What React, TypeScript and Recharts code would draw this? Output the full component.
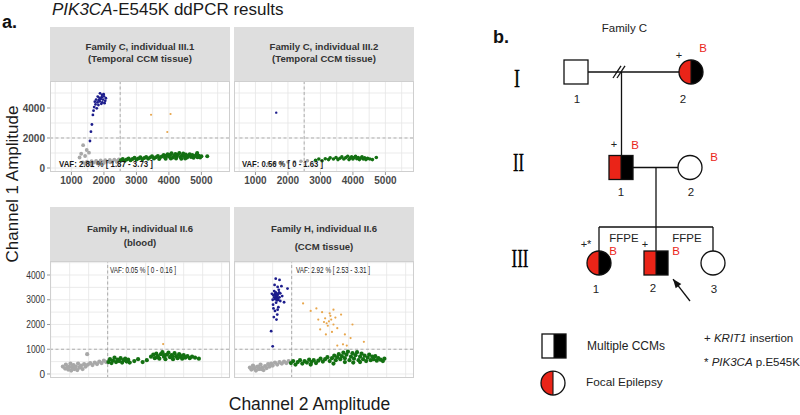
import React from "react";
import { ScatterChart, Scatter, XAxis, YAxis, ReferenceLine, CartesianGrid } from "recharts";

type Pt = [number, number];

// ---------------- Panel a: ddPCR droplet amplitudes (Channel 2 = x, Channel 1 = y) ----------------
const xTicksTop = [1000, 2000, 3000, 4000, 5000];
const yTicksTop = [0, 2000, 4000];
const yTicksBottom = [0, 1000, 2000, 3000, 4000];
const xGridTop = [500, 1000, 1500, 2000, 2500, 3000, 3500, 4000, 4500, 5000, 5500];
const yGridTop = [0, 1000, 2000, 3000, 4000, 5000];
const xGridBottom = [1000, 1500, 2000, 2500, 3000, 3500, 4000, 4500, 5000, 5500];
const yGridBottom = [0, 500, 1000, 1500, 2000, 2500, 3000, 3500, 4000, 4500];
const thresholdX = 2500;
const thresholdYTop = 2000;
const thresholdYBottom = 1000;

const stripTitles = [
  ["Family C, individual III.1", "(Temporal CCM tissue)"],
  ["Family C, individual III.2", "(Temporal CCM tissue)"],
  ["Family H, individual II.6", "(blood)"],
  ["Family H, individual II.6", "(CCM tissue)"],
];
const vafLabels = [
  "VAF: 2.81 % [ 1.87 - 3.73 ]",
  "VAF: 0.56 % [ 0 - 1.63 ]",
  "VAF: 0.05 % [ 0 - 0.16 ]",
  "VAF: 2.92 % [ 2.53 - 3.31 ]",
];

// Family C III.1
const c31Gray: Pt[] = [
  [1350, 380], [1420, 300], [1480, 420], [1550, 340], [1620, 460], [1690, 360], [1760, 480], [1830, 380],
  [1900, 500], [1970, 400], [2040, 520], [2110, 420], [2180, 540], [2250, 440], [2320, 560], [2390, 460],
  [2460, 580], [2530, 480], [1600, 250], [1800, 300], [2000, 350], [2200, 380], [2400, 400],
  [1360, 1520], [1300, 950], [1470, 1200], [1540, 1020], [1420, 800], [1250, 700],
];
const c31Green: Pt[] = [
  [2520, 520], [2580, 600], [2640, 480], [2700, 560], [2760, 640], [2820, 520], [2880, 600], [2940, 680],
  [3000, 560], [3060, 640], [3120, 720], [3180, 590], [3240, 660], [3300, 740], [3360, 610], [3420, 700],
  [3480, 780], [3540, 640], [3600, 720], [3660, 800], [3720, 680], [3780, 760], [3840, 860], [3880, 700],
  [3920, 820], [3960, 920], [4000, 760], [4040, 880], [4080, 980], [4120, 700], [4160, 820], [4200, 940],
  [4240, 760], [4280, 880], [4320, 1000], [4360, 720], [4400, 840], [4440, 960], [4480, 780], [4520, 900],
  [4560, 700], [4600, 820], [4640, 920], [4680, 740], [4720, 860], [4760, 680], [4800, 800], [4850, 900],
  [4880, 720], [4920, 820], [4960, 700], [5000, 780], [4060, 640], [4220, 640], [4380, 620], [3700, 600],
  [3900, 620], [4500, 640], [5180, 780], [4870, 1000],
];
const c31Orange: Pt[] = [[3450, 3550], [4050, 3600], [3950, 2400]];
const c31Blue: Pt[] = [
  [1880, 4980], [1940, 4880], [1990, 4920], [1810, 4760], [1860, 4680], [1930, 4720], [2000, 4780], [2060, 4650],
  [1760, 4560], [1840, 4520], [1900, 4600], [1970, 4560], [2040, 4480], [1720, 4420], [1800, 4380], [1870, 4440],
  [1950, 4380], [2020, 4320], [1740, 4240], [1830, 4200], [1920, 4280], [1700, 4060], [1780, 3980], [1680, 3820],
  [1660, 3540], [1630, 2900], [1600, 2420], [1570, 1800],
];

// Family C III.2
const c32Gray: Pt[] = [[1400, 300], [1600, 350], [1800, 380], [2000, 400], [2200, 420], [2400, 450], [2600, 480]];
const c32Green: Pt[] = [
  [2850, 520], [2950, 600], [3050, 480], [3150, 620], [3250, 560], [3300, 680], [3400, 600], [3480, 700],
  [3540, 560], [3600, 650], [3660, 740], [3720, 600], [3780, 690], [3840, 780], [3880, 560], [3920, 660],
  [3960, 740], [4000, 600], [4040, 700], [4080, 780], [4120, 620], [4160, 700], [4200, 560], [4240, 660],
  [4280, 740], [4320, 600], [4360, 680], [4400, 560], [4450, 640], [4520, 600], [4600, 560], [4720, 700],
];
const c32Blue: Pt[] = [[1640, 3690]];

// Family H II.6 blood
const h26bGray: Pt[] = [
  [1320, 300], [1380, 220], [1400, 380], [1460, 180], [1480, 300], [1520, 420], [1540, 140], [1560, 260],
  [1600, 360], [1620, 200], [1660, 300], [1700, 160], [1720, 420], [1760, 260], [1800, 340], [1840, 200],
  [1880, 400], [1920, 300], [1980, 380], [2040, 440], [2100, 360], [2160, 460], [2220, 400], [2280, 500],
  [2340, 440], [2400, 540], [2460, 480], [1440, 260], [1580, 320], [1640, 240], [1780, 300], [1960, 800],
];
const h26bGreen: Pt[] = [
  [2520, 480], [2560, 600], [2600, 440], [2640, 540], [2680, 660], [2720, 480], [2760, 580], [2800, 520],
  [2840, 640], [2880, 460], [2920, 560], [2960, 620], [3000, 500], [3040, 580], [3080, 460],
  [3200, 520], [3300, 600], [3420, 480], [3530, 560],
  [3640, 700], [3700, 780], [3740, 640], [3780, 820], [3820, 720], [3860, 620], [3900, 800], [3940, 880],
  [3980, 700], [4020, 600], [4060, 780], [4100, 860], [4140, 680], [4180, 760], [4220, 600], [4260, 840],
  [4300, 720], [4340, 640], [4380, 800], [4420, 700], [4460, 620], [4500, 760], [4540, 660], [4600, 720],
  [4660, 640], [4720, 700], [4800, 660], [4900, 620], [4000, 760], [4200, 700], [4400, 760], [3800, 680],
];
const h26bOrange: Pt[] = [[3960, 1210]];

// Family H II.6 CCM tissue
const h26tGray: Pt[] = [
  [1400, 260], [1440, 180], [1480, 340], [1520, 220], [1560, 140], [1600, 300], [1640, 200], [1680, 380],
  [1720, 260], [1760, 160], [1800, 320], [1840, 240], [1880, 400], [1920, 300], [1960, 420], [2000, 340],
  [2060, 460], [2120, 380], [2180, 480], [2240, 420], [2300, 500], [2360, 440], [2420, 520], [1500, 300],
  [1620, 260], [1700, 200],
];
const h26tGreen: Pt[] = [
  [2480, 440], [2540, 520], [2600, 380], [2660, 480], [2720, 560], [2780, 420], [2840, 520], [2900, 460],
  [2960, 580], [3020, 480], [3080, 560], [3140, 440], [3200, 540], [3260, 620], [3320, 500], [3380, 600],
  [3440, 680], [3500, 520], [3560, 640], [3620, 740], [3660, 560], [3700, 680], [3740, 800], [3780, 600],
  [3820, 720], [3860, 860], [3900, 640], [3940, 780], [3980, 900], [4020, 560], [4060, 700], [4100, 840],
  [4140, 620], [4180, 760], [4220, 880], [4260, 560], [4300, 700], [4340, 820], [4380, 600], [4420, 740],
  [4460, 520], [4500, 660], [4540, 780], [4580, 560], [4620, 700], [4660, 600], [4700, 720], [4740, 540],
  [4780, 640], [4840, 580], [4900, 520], [4120, 460], [3900, 480], [4300, 480], [3600, 420], [3000, 380],
  [4940, 620],
];
const h26tOrange: Pt[] = [
  [3480, 2130], [3420, 2050], [3540, 2200], [3380, 2250], [3600, 2000], [3450, 1950], [3520, 2350], [3350, 2100],
  [3650, 2280], [3300, 2500], [3700, 1850], [3250, 1800], [3560, 1700], [3800, 2400], [3150, 2650], [2800, 2850],
  [3000, 2550], [3900, 1600], [4050, 1450], [4400, 1300], [3700, 1150], [3850, 1200], [3950, 1150], [3600, 2600],
  [3400, 1600], [4100, 2000], [3200, 2200], [3500, 2450],
];
const h26tBlue: Pt[] = [
  [2100, 3140], [2060, 3050], [2140, 3220], [2020, 3180], [2180, 3100], [2080, 3300], [2120, 2980], [2040, 3350],
  [2160, 3400], [2000, 3000], [2200, 3260], [2090, 2880], [2130, 3520], [2050, 3600], [2230, 3550], [2180, 3800],
  [2080, 3850], [2010, 2800], [2150, 2700], [2060, 2550], [2120, 2400], [2030, 2300], [2200, 2950], [2250, 3150],
  [1980, 3240], [2110, 3060], [2070, 3200], [2150, 3000], [2040, 3100], [2170, 3300], [2390, 3450], [2300, 2900],
  [1960, 1730], [2000, 1120], [2100, 2200], [2020, 2650], [2130, 2600], [2090, 3120], [2120, 3180], [2060, 3240],
  [2140, 3080], [2100, 3260], [2070, 3020],
];

// ---------------- Panel b: pedigree of Family C ----------------
const pedIds = ["I-1", "I-2", "II-1", "II-2", "III-1", "III-2", "III-3"];
const pedColumn = [9.6, 21.1, 14.1, 21.0, 11.9, 17.6, 23.3];
const pedGeneration = [1, 1, 2, 2, 3, 3, 3];
const pedSex = ["M", "F", "M", "F", "F", "M", "F"];
const pedMultipleCCMs = [0, 1, 1, 0, 1, 1, 0];
const pedFocalEpilepsy = [0, 1, 1, 0, 1, 1, 0];
const pedNumber = ["1", "2", "1", "2", "1", "2", "3"];
const pedMarker = ["", "+", "+", "", "+*", "+", ""];
const pedBlood = [0, 1, 1, 1, 1, 1, 0];
const pedFFPE = [0, 0, 0, 0, 1, 1, 0];
const generationLabels = ["I", "II", "III"];

const pedLinks: [number, number, number, number][] = [
  [10.8, 1, 19.9, 1],
  [14.15, 1, 14.15, 1.869],
  [15.3, 2, 19.8, 2],
  [17.6, 2, 17.6, 2.874],
  [11.9, 2.623, 23.3, 2.623],
  [11.9, 2.623, 11.9, 2.874],
  [23.3, 2.623, 23.3, 2.874],
];
const separationMarks: [number, number, number, number][] = [
  [13.3, 1.063, 14.1, 0.937],
  [13.7, 1.063, 14.5, 0.937],
];
const probandArrow: [number, number, number, number] = [21.0, 3.398, 19.3, 3.168];

const legendLabels = ["Multiple CCMs", "Focal Epilepsy"];
const legendSex = ["M", "F"];
const legendColumn = [7.4, 7.3];
const legendRow = [3.869, 4.257];
const legendCCM = [1, 0];
const legendEpi = [0, 1];

// ---------------- styles ----------------
const FONT = "'Liberation Sans', Arial, sans-serif";
const C_GRAY = "#a8a8a8";
const C_GREEN = "#137012";
const C_BLUE = "#1d1d8c";
const C_ORANGE = "#e8a64c";
const RED = "#ea2418";
const INK = "#111";

const annot: Record<string, any> = {
  "I-1": { num: [1, 27] },
  "I-2": { num: [-8, 27], mark: [-12, -17], b: [12, -24] },
  "II-1": { num: [0, 24], mark: [-7, -23], b: [14, -23] },
  "II-2": { num: [1, 24], b: [24, -11] },
  "III-1": { num: [-3, 26], mark: [-13, -19], b: [14, -12], ffpe: [25, -25] },
  "III-2": { num: [-3, 25], mark: [-11, -19], b: [20, -12], ffpe: [31, -25] },
  "III-3": { num: [1, 26] },
};

const toObj = (a: Pt[]) => a.map(([x, y]) => ({ x, y }));
const dot = (r: number, color: string) => (p: any) => <circle cx={p.cx} cy={p.cy} r={r} fill={color} />;

type Series = { data: Pt[]; color: string; r: number };

function CondensedTick(props: any) {
  const { x, y, payload } = props;
  const s = String(payload.value);
  const extra = s.length > 1 ? { textLength: s.length * 4.7, lengthAdjust: "spacingAndGlyphs" } : {};
  return (
    <text x={x} y={y} dy="0.36em" textAnchor="end" fontSize={10} fill="#333" fontFamily={FONT} {...extra}>{s}</text>
  );
}

function Facet(props: {
  left: number; top: number; width: number; height: number;
  xDomain: [number, number]; yDomain: [number, number];
  showX: boolean; showY: boolean; xTicks: number[]; yTicks: number[];
  xGrid: number[]; yGrid: number[]; thrY: number; series: Series[]; condensed?: boolean;
}) {
  const yw = props.showY ? 50 : 0;
  const xh = props.showX ? 20 : 0;
  const pad = props.showX ? 0 : 8;
  const tickStyle = { fontSize: 10, fontWeight: 700, fill: "#4a4a4a", fontFamily: FONT };
  return (
    <div style={{ position: "absolute", left: props.left - yw, top: props.top }}>
      <ScatterChart width={props.width + yw} height={props.height + xh + pad} margin={{ top: 0, right: 0, bottom: pad, left: 0 }}>
        <CartesianGrid horizontalValues={props.yGrid} verticalValues={props.xGrid} stroke="#e6e6e6" strokeWidth={0.8} />
        <XAxis type="number" dataKey="x" domain={props.xDomain} allowDataOverflow ticks={props.xTicks} interval={0}
          hide={!props.showX} height={xh} axisLine={false} tickLine={{ stroke: "#9a9a9a" }} tickSize={3} tick={tickStyle} />
        <YAxis type="number" dataKey="y" domain={props.yDomain} allowDataOverflow ticks={props.yTicks} interval={0}
          hide={!props.showY} width={yw} axisLine={false} tickLine={{ stroke: "#9a9a9a" }} tickSize={3}
          tick={props.condensed ? <CondensedTick /> : tickStyle} />
        <ReferenceLine x={thresholdX} stroke="#9a9a9a" strokeWidth={0.8} strokeDasharray="3 2.5" />
        <ReferenceLine y={props.thrY} stroke="#9a9a9a" strokeWidth={0.8} strokeDasharray="3 2.5" />
        {props.series.map((s, i) => (
          <Scatter key={i} data={toObj(s.data)} shape={dot(s.r, s.color)} isAnimationActive={false} />
        ))}
      </ScatterChart>
      <div style={{ position: "absolute", left: yw, top: 0, width: props.width, height: props.height, boxSizing: "border-box", border: "1px solid #cfcfcf", pointerEvents: "none" }} />
    </div>
  );
}

function HalfSymbol({ cx, cy, sex, left, right }: any) {
  const s = 12;
  if (sex === "M") {
    return (
      <g>
        <rect x={cx - s} y={cy - s} width={s} height={2 * s} fill={left} />
        <rect x={cx} y={cy - s} width={s} height={2 * s} fill={right} />
        <rect x={cx - s} y={cy - s} width={2 * s} height={2 * s} fill="none" stroke={INK} strokeWidth={1.3} />
        {left !== right && <line x1={cx} y1={cy - s} x2={cx} y2={cy + s} stroke={INK} strokeWidth={1.1} />}
      </g>
    );
  }
  return (
    <g>
      <path d={`M ${cx} ${cy - s} A ${s} ${s} 0 0 0 ${cx} ${cy + s} Z`} fill={left} />
      <path d={`M ${cx} ${cy - s} A ${s} ${s} 0 0 1 ${cx} ${cy + s} Z`} fill={right} />
      <circle cx={cx} cy={cy} r={s} fill="none" stroke={INK} strokeWidth={1.3} />
      {left !== right && <line x1={cx} y1={cy - s} x2={cx} y2={cy + s} stroke={INK} strokeWidth={1.1} />}
    </g>
  );
}

function PedShape(p: any) {
  const { cx, cy, payload } = p;
  const a = annot[payload.id] || {};
  const left = payload.epi ? RED : "#fff";
  const right = payload.ccm ? "#000" : "#fff";
  return (
    <g fontFamily={FONT}>
      <HalfSymbol cx={cx} cy={cy} sex={payload.sex} left={left} right={right} />
      {a.num && <text x={cx + a.num[0]} y={cy + a.num[1]} dy="0.35em" textAnchor="middle" fontSize={11.5} fill="#222">{payload.num}</text>}
      {payload.mark && a.mark && <text x={cx + a.mark[0]} y={cy + a.mark[1]} dy="0.35em" textAnchor="middle" fontSize={11} fill="#222">{payload.mark}</text>}
      {payload.b ? <text x={cx + a.b[0]} y={cy + a.b[1]} dy="0.35em" textAnchor="middle" fontSize={11.5} fill={RED}>B</text> : null}
      {payload.ffpe ? <text x={cx + a.ffpe[0]} y={cy + a.ffpe[1]} dy="0.35em" textAnchor="middle" fontSize={11.5} fill="#222">FFPE</text> : null}
    </g>
  );
}

function LegendShape(p: any) {
  const { cx, cy, payload } = p;
  return <HalfSymbol cx={cx} cy={cy} sex={payload.sex} left={payload.epi ? RED : "#fff"} right={payload.ccm ? "#000" : "#fff"} />;
}

function ArrowHead(p: any) {
  const { cx, cy } = p;
  return <polygon points={`${cx},${cy} ${cx + 2.7},${cy + 9.3} ${cx + 8.3},${cy + 5}`} fill={INK} />;
}

export default function App() {
  const topX: [number, number] = [340, 5880];
  const topY: [number, number] = [-267, 5800];
  const botX: [number, number] = [982, 5719];
  const botY: [number, number] = [-162, 4566];

  const pedNodes = pedIds.map((id, i) => ({
    id, x: pedColumn[i], y: pedGeneration[i], sex: pedSex[i], ccm: pedMultipleCCMs[i], epi: pedFocalEpilepsy[i],
    num: pedNumber[i], mark: pedMarker[i], b: pedBlood[i], ffpe: pedFFPE[i],
  }));
  const legendNodes = legendLabels.map((l, i) => ({ x: legendColumn[i], y: legendRow[i], sex: legendSex[i], ccm: legendCCM[i], epi: legendEpi[i] }));
  const strips = [
    { left: 50, top: 27 }, { left: 234, top: 27 }, { left: 50, top: 207 }, { left: 234, top: 207 },
  ];
  const stripBase = [[50, 62], [50, 62], [232, 246], [232, 250]];
  const vafPos = [
    { x: 59, y: 167, w: 94, size: 8.5, weight: 700 },
    { x: 242, y: 167, w: 81, size: 8.5, weight: 700 },
    { x: 110, y: 273, w: 66, size: 9, weight: 400 },
    { x: 296, y: 273, w: 74, size: 9, weight: 400 },
  ];
  const romanY = [87, 171, 267];
  const romanW = [6, 11, 17];

  return (
    <div style={{ position: "absolute", left: 0, top: 0, width: 800, height: 415, background: "#fff", overflow: "hidden" }}>
      {strips.map((s, i) => (
        <div key={i} style={{ position: "absolute", left: s.left, top: s.top, width: 180, height: 54, background: "#dedede" }} />
      ))}
      <Facet left={50} top={81} width={180} height={91} xDomain={topX} yDomain={topY} showX showY
        xTicks={xTicksTop} yTicks={yTicksTop} xGrid={xGridTop} yGrid={yGridTop} thrY={thresholdYTop}
        series={[{ data: c31Gray, color: C_GRAY, r: 1.9 }, { data: c31Green, color: C_GREEN, r: 2.0 }, { data: c31Orange, color: C_ORANGE, r: 1.1 }, { data: c31Blue, color: C_BLUE, r: 1.4 }]} />
      <Facet left={234} top={81} width={180} height={91} xDomain={topX} yDomain={topY} showX showY={false}
        xTicks={xTicksTop} yTicks={yTicksTop} xGrid={xGridTop} yGrid={yGridTop} thrY={thresholdYTop}
        series={[{ data: c32Gray, color: C_GRAY, r: 1.8 }, { data: c32Green, color: C_GREEN, r: 1.8 }, { data: c32Blue, color: C_BLUE, r: 1.2 }]} />
      <Facet left={50} top={261} width={180} height={117} xDomain={botX} yDomain={botY} showX={false} showY condensed
        xTicks={[]} yTicks={yTicksBottom} xGrid={xGridBottom} yGrid={yGridBottom} thrY={thresholdYBottom}
        series={[{ data: h26bGray, color: C_GRAY, r: 2.1 }, { data: h26bGreen, color: C_GREEN, r: 2.1 }, { data: h26bOrange, color: C_ORANGE, r: 1.1 }]} />
      <Facet left={234} top={261} width={180} height={117} xDomain={botX} yDomain={botY} showX={false} showY={false}
        xTicks={[]} yTicks={yTicksBottom} xGrid={xGridBottom} yGrid={yGridBottom} thrY={thresholdYBottom}
        series={[{ data: h26tGray, color: C_GRAY, r: 2.1 }, { data: h26tGreen, color: C_GREEN, r: 2.1 }, { data: h26tOrange, color: C_ORANGE, r: 1.1 }, { data: h26tBlue, color: C_BLUE, r: 1.4 }]} />

      <div style={{ position: "absolute", left: 480, top: 0 }}>
        <ScatterChart width={320} height={415} margin={{ top: 0, right: 0, bottom: 0, left: 0 }}>
          <XAxis type="number" dataKey="x" domain={[0, 32]} hide allowDataOverflow />
          <YAxis type="number" dataKey="y" domain={[0.2461, 4.5916]} reversed hide allowDataOverflow />
          {pedLinks.concat(separationMarks).map((l, i) => (
            <ReferenceLine key={i} segment={[{ x: l[0], y: l[1] }, { x: l[2], y: l[3] }]} stroke={INK} strokeWidth={1.3} ifOverflow="visible" />
          ))}
          <ReferenceLine segment={[{ x: probandArrow[0], y: probandArrow[1] }, { x: probandArrow[2], y: probandArrow[3] }]} stroke={INK} strokeWidth={1.3} ifOverflow="visible" />
          <Scatter data={pedNodes} shape={PedShape} isAnimationActive={false} />
          <Scatter data={legendNodes} shape={LegendShape} isAnimationActive={false} />
          <Scatter data={[{ x: probandArrow[2], y: probandArrow[3] }]} shape={ArrowHead} isAnimationActive={false} />
        </ScatterChart>
      </div>

      <svg width={800} height={415} style={{ position: "absolute", left: 0, top: 0, pointerEvents: "none" }} fontFamily={FONT}>
        <text x={52} y={15} fontSize={17} fill="#1a1a1a"><tspan fontStyle="italic">PIK3CA</tspan>-E545K ddPCR results</text>
        <text x={2} y={28} fontSize={18} fontWeight={700} fill="#111">a.</text>
        <text transform="translate(18,184) rotate(-90)" textAnchor="middle" fontSize={17} fill="#1a1a1a">Channel 1 Amplitude</text>
        <text x={309.5} y={410} textAnchor="middle" fontSize={17.5} fill="#1a1a1a">Channel 2 Amplitude</text>
        {stripTitles.map((t, i) => (
          <g key={i} fontSize={9.6} fontWeight={700} fill="#333" textAnchor="middle">
            <text x={strips[i].left + 90} y={stripBase[i][0]}>{t[0]}</text>
            <text x={strips[i].left + 90} y={stripBase[i][1]}>{t[1]}</text>
          </g>
        ))}
        {vafLabels.map((t, i) => (
          <text key={i} x={vafPos[i].x} y={vafPos[i].y} fontSize={vafPos[i].size} fontWeight={vafPos[i].weight} fill="#1a1a1a"
            textLength={vafPos[i].w} lengthAdjust="spacingAndGlyphs">{t}</text>
        ))}
        <text x={493} y={43} fontSize={18} fontWeight={700} fill="#111">b.</text>
        <text x={624.5} y={32} textAnchor="middle" fontSize={11.5} fill="#222">Family C</text>
        {generationLabels.map((g, i) => (
          <text key={g} x={517 + i * 1.5} y={romanY[i]} textAnchor="middle" fontSize={26} fontFamily="'Liberation Serif', serif" fill="#000"
            stroke="#000" strokeWidth={0.4} textLength={romanW[i]} lengthAdjust="spacingAndGlyphs">{g}</text>
        ))}
        <text x={587} y={350} fontSize={12} fill="#222">{legendLabels[0]}</text>
        <text x={586} y={386} fontSize={11.8} fill="#222">{legendLabels[1]}</text>
        <text x={704} y={342} fontSize={11.5} fill="#222">+ <tspan fontStyle="italic">KRIT1</tspan> insertion</text>
        <text x={704} y={366} fontSize={11.5} fill="#222">* <tspan fontStyle="italic">PIK3CA</tspan> p.E545K</text>
      </svg>
    </div>
  );
}
